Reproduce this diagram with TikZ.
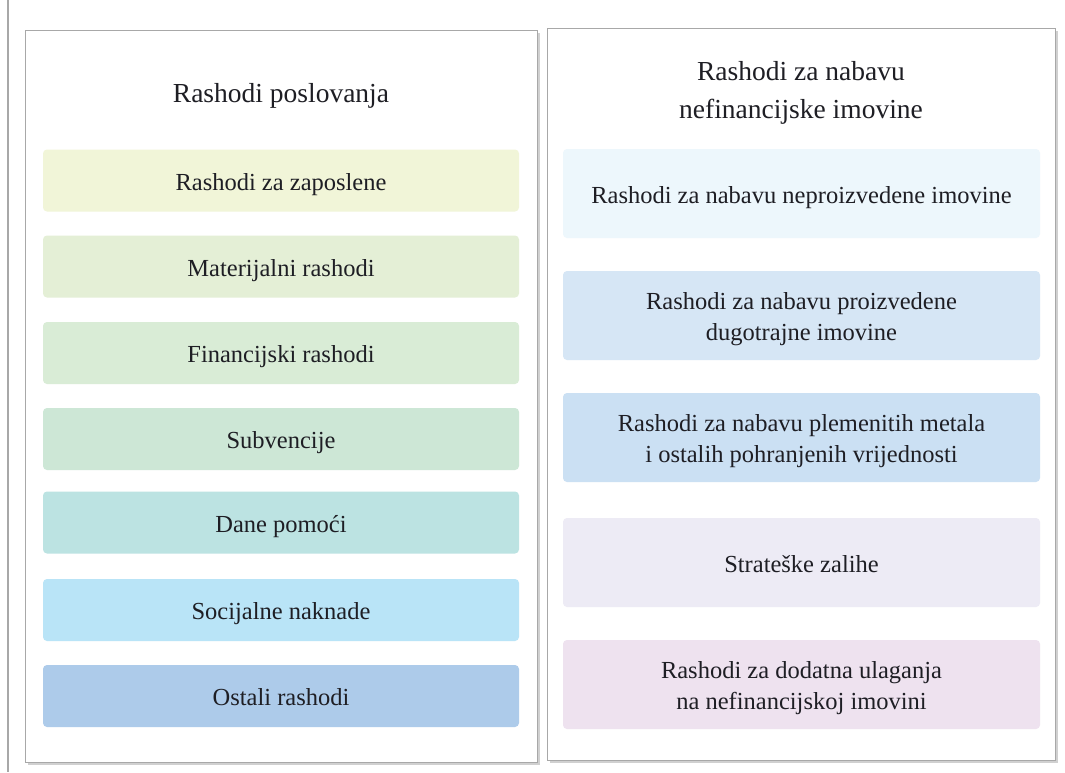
\documentclass[tikz,border=0pt]{standalone}
\usepackage{fontspec}
\setmainfont{Liberation Serif}
\usetikzlibrary{shadows}
\definecolor{txt}{HTML}{1E1E24}
\definecolor{frame}{HTML}{A8A8A8}
\definecolor{cA}{HTML}{F1F5D8}
\definecolor{cB}{HTML}{E4EFD6}
\definecolor{cC}{HTML}{D9ECD6}
\definecolor{cD}{HTML}{CDE7D6}
\definecolor{cE}{HTML}{BCE3E2}
\definecolor{cF}{HTML}{B9E4F7}
\definecolor{cG}{HTML}{ADCBEA}
\definecolor{rA}{HTML}{EDF7FC}
\definecolor{rB}{HTML}{D6E6F5}
\definecolor{rC}{HTML}{CBE0F3}
\definecolor{rD}{HTML}{EDEBF5}
\definecolor{rE}{HTML}{EEE2EF}
\tikzset{
  panel/.style={draw=frame, line width=1pt, fill=white, drop shadow={shadow xshift=2.5pt, shadow yshift=-3pt, opacity=0.3, fill=black!60}},
  lbox/.style={rounded corners=4pt, minimum width=476pt, minimum height=62pt, inner sep=0pt, text=txt, font=\fontsize{24.5}{32}\selectfont, align=center, text height=20pt, text depth=1pt},
  rbox/.style={rounded corners=4pt, minimum width=477pt, minimum height=89pt, inner sep=0pt, text=txt, font=\fontsize{24.5}{31}\selectfont, align=center, text height=20pt, text depth=1pt},
  rbox2/.style={rbox, text height=51pt, text depth=2pt},
  ttl/.style={text=txt, font=\fontsize{27.5}{38}\selectfont, align=center, inner sep=0pt}
}
\begin{document}
\begin{tikzpicture}[x=1pt,y=-1pt]
\useasboundingbox (0,0) rectangle (1065,772);
\fill[white] (0,0) rectangle (1065,772);
\draw[frame, line width=1.2pt] (8,0) coordinate (vl1) -- (8,772) coordinate (vl2);
\node[panel, minimum width=512pt, minimum height=732pt, inner sep=0pt] (lp) at (281,396) {};
\node[panel, minimum width=508pt, minimum height=732pt, inner sep=0pt] (rp) at (801,394) {};
\node[ttl] (lt) at (281,96) {Rashodi poslovanja};
\node[ttl] (rt) at (801,93) {Rashodi za nabavu\\nefinancijske imovine};
\node[lbox, fill=cA] (l1) at (281,180.5) {Rashodi za zaposlene};
\node[lbox, fill=cB] (l2) at (281,266.5) {Materijalni rashodi};
\node[lbox, fill=cC] (l3) at (281,353) {Financijski rashodi};
\node[lbox, fill=cD] (l4) at (281,439) {Subvencije};
\node[lbox, fill=cE] (l5) at (281,522.5) {Dane pomoći};
\node[lbox, fill=cF] (l6) at (281,610) {Socijalne naknade};
\node[lbox, fill=cG] (l7) at (281,696) {Ostali rashodi};
\node[rbox, fill=rA] (r1) at (801.5,193.5) {Rashodi za nabavu neproizvedene imovine};
\node[rbox2, fill=rB] (r2) at (801.5,315.5) {Rashodi za nabavu proizvedene\\dugotrajne imovine};
\node[rbox2, fill=rC] (r3) at (801.5,437.5) {Rashodi za nabavu plemenitih metala\\i ostalih pohranjenih vrijednosti};
\node[rbox, fill=rD] (r4) at (801.5,562.5) {Strateške zalihe};
\node[rbox2, fill=rE] (r5) at (801.5,684.5) {Rashodi za dodatna ulaganja\\na nefinancijskoj imovini};
\end{tikzpicture}
\end{document}
